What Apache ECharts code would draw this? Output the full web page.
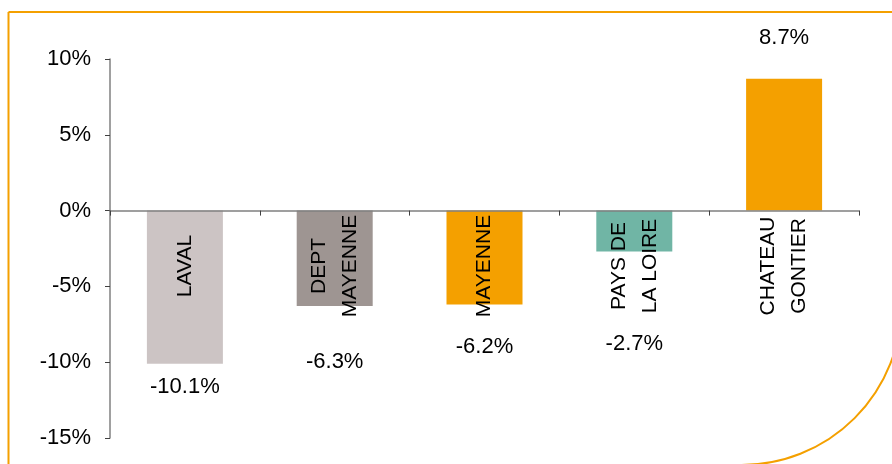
<!DOCTYPE html>
<html>
<head>
<meta charset="utf-8">
<script src="https://cdn.jsdelivr.net/npm/echarts@6/dist/echarts.min.js"></script>
<style>
html,body{margin:0;padding:0;background:#fff;}
#c{width:892px;height:464px;}
</style>
</head>
<body>
<div id="c"></div>
<script>
// Data
const categories = ['LAVAL', 'DEPT\nMAYENNE', 'MAYENNE', 'PAYS DE\nLA LOIRE', 'CHATEAU\nGONTIER'];
const values = [-10.1, -6.3, -6.2, -2.7, 8.7];
const yTicks = [-15, -10, -5, 0, 5, 10];

// Styling (not data)
const barColors = ['#CCC4C4', '#9E9592', '#F4A000', '#70B5A5', '#F4A000'];
const labelDistances = [12, 45, 31, 81, 30];

const FONT = '"Liberation Sans", Arial, sans-serif';

const chart = echarts.init(document.getElementById('c'), null, {renderer: 'canvas'});
chart.setOption({
  animation: false,
  backgroundColor: '#fff',
  grid: {left: 110, right: 33, top: 59, bottom: 26, containLabel: false, outerBoundsMode: 'none'},
  xAxis: {
    type: 'category',
    data: categories,
    z: 10,
    axisLine: {onZero: true, lineStyle: {color: '#808080', width: 1.5}},
    axisTick: {show: true, length: 5, lineStyle: {color: '#404040'}},
    axisLabel: {
      rotate: 90,
      align: 'center',
      verticalAlign: 'middle',
      margin: -172,
      interval: 0,
      color: '#000',
      fontFamily: FONT,
      fontSize: 21,
      lineHeight: 31
    },
    splitLine: {show: false}
  },
  yAxis: {
    type: 'value',
    min: yTicks[0],
    max: yTicks[yTicks.length - 1],
    interval: 5,
    axisLine: {show: true, lineStyle: {color: '#808080', width: 1.5}},
    axisTick: {show: true, length: 5, lineStyle: {color: '#404040'}},
    axisLabel: {
      margin: 19,
      color: '#000',
      fontFamily: FONT,
      fontSize: 22,
      formatter: v => v + '%'
    },
    splitLine: {show: false}
  },
  series: [{
    type: 'bar',
    barWidth: 76,
    data: values.map((v, i) => ({
      value: v,
      itemStyle: {color: barColors[i]},
      label: {distance: labelDistances[i]}
    })),
    label: {
      show: true,
      position: 'outside',
      color: '#000',
      fontFamily: FONT,
      fontSize: 22,
      formatter: p => p.value.toFixed(1) + '%'
    }
  }],
  graphic: [{
    type: 'rect',
    silent: true,
    z: 100,
    shape: {x: 8.5, y: 12, width: 893, height: 453, r: [0, 0, 160, 0]},
    style: {fill: 'none', stroke: '#F4A000', lineWidth: 2}
  }]
});
</script>
</body>
</html>
